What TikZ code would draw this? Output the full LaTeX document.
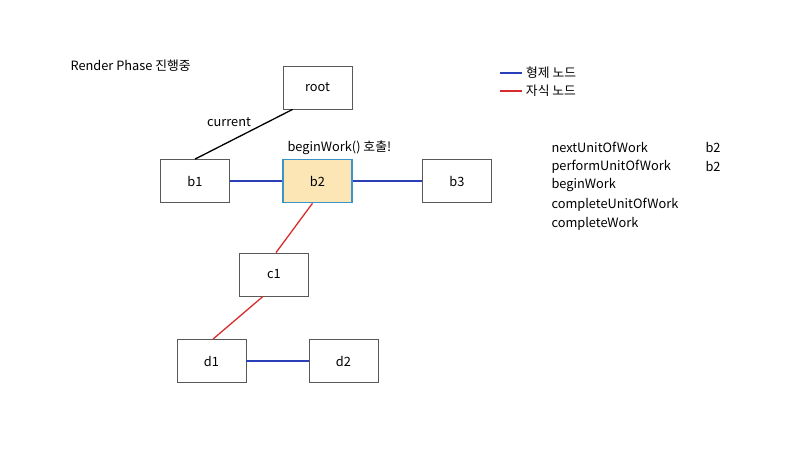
\documentclass[tikz,border=0pt]{standalone}
\usepackage{fontspec}
\setmainfont{Noto Sans CJK KR}
\definecolor{sibblue}{HTML}{2B3FB8}
\definecolor{kidred}{HTML}{D92B2B}
\definecolor{hilite}{HTML}{FCE6B6}
\definecolor{hiedge}{HTML}{3A93C9}
\begin{document}
\begin{tikzpicture}[x=1pt, y=-1pt, font=\fontsize{12.8}{15}\selectfont,
    fiber/.style={draw=black!65, line width=0.8pt, minimum width=69pt, minimum height=43pt, inner sep=0pt},
    sib/.style={draw=sibblue, line width=1.6pt},
    kid/.style={draw=kidred, line width=1.3pt}]
    \useasboundingbox (0,0) rectangle (800,450);
    \node[anchor=west] (phase) at (67,66) {Render Phase 진행중};
    % fibers
    \node[fiber] (root) at (317.5,87.5) {root};
    \node[fiber] (b1) at (195,181) {b1};
    \node[fiber, fill=hilite, draw=hiedge, line width=1.5pt] (b2) at (317.5,181) {b2};
    \node[fiber] (b3) at (457,181) {b3};
    \node[fiber] (c1) at (274,274.5) {c1};
    \node[fiber] (d1) at (211.5,361) {d1};
    \node[fiber] (d2) at (343.5,361) {d2};
    % links
    \draw[line width=1.3pt] ([xshift=10pt]root.south west) -- (b1.north);
    \node (cur) at (229,122) {current};
    \node[anchor=west] (call) at (284,148) {beginWork() 호출!};
    \draw[sib] (b1.east) -- (b2.west);
    \draw[sib] (b2.east) -- (b3.west);
    \draw[sib] (d1.east) -- (d2.west);
    \draw[kid] ([xshift=-5pt]b2.south) -- ([xshift=2pt]c1.north);
    \draw[kid] ([xshift=-11pt]c1.south) -- ([xshift=1.5pt]d1.north);
    % legend
    \coordinate (l1) at (500,73);
    \coordinate (l2) at (500,91);
    \draw[sib] (l1) -- ++(22,0) node[right, text=black] (sibtxt) {형제 노드};
    \draw[kid] (l2) -- ++(22,0) node[right, text=black] (kidtxt) {자식 노드};
    % work loop
    \foreach \t [count=\i] in {nextUnitOfWork,performUnitOfWork,beginWork,completeUnitOfWork,completeWork}
      \node[anchor=west] (w\i) at (548,128.5+\i*19) {\t};
    \node[anchor=west] (v1) at (702,147.5) {b2};
    \node[anchor=west] (v2) at (702,166.5) {b2};
\end{tikzpicture}
\end{document}
